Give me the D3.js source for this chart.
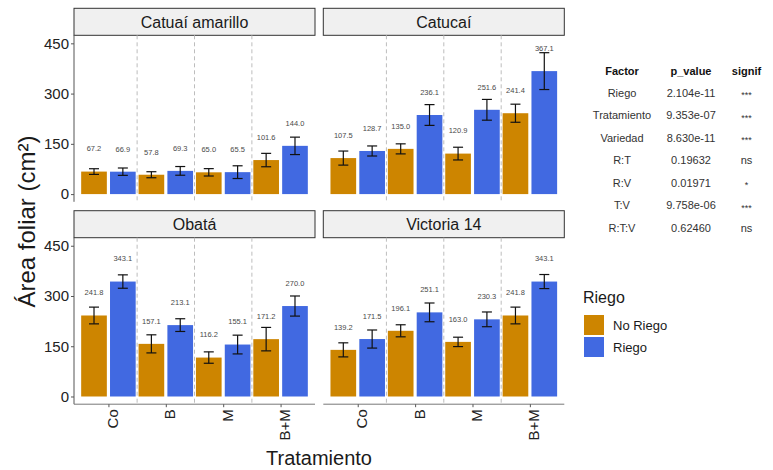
<!DOCTYPE html>
<html>
<head>
<meta charset="utf-8">
<script src="https://cdn.jsdelivr.net/npm/d3@7"></script>
<style>
  body { margin: 0; background: #fff; }
  text { font-family: "Liberation Sans", Arial, sans-serif; }
</style>
</head>
<body>
<div id="chart"></div>
<script>
const varieties = ["Catuaí amarillo", "Catucaí", "Obatá", "Victoria 14"];
const treatments = ["Co", "B", "M", "B+M"];
const riegoLevels = ["No Riego", "Riego"];

// medias por variedad (orden de treatments)
const noRiegoMeans = [
    [67.2, 57.8, 65.0, 101.6],
    [107.5, 135.0, 120.9, 241.4],
    [241.8, 157.1, 116.2, 171.2],
    [139.2, 196.1, 163.0, 241.8]
];
const riegoMeans = [
    [66.9, 69.3, 65.5, 144.0],
    [128.7, 236.1, 251.6, 367.1],
    [343.1, 213.1, 155.1, 270.0],
    [171.5, 251.1, 230.3, 343.1]
];
// error estandar
const noRiegoSE = [
    [8.5, 9, 11, 20],
    [21, 15, 19, 27],
    [25, 27, 17, 35],
    [21, 18, 14, 25]
];
const riegoSE = [
    [11, 13, 19, 26],
    [15, 31, 31, 55],
    [20, 19, 28, 30],
    [27, 28, 22, 21]
];

const yTicks = [0, 150, 300, 450];

const anova = [
    ["Riego", "2.104e-11", "***"],
    ["Tratamiento", "9.353e-07", "***"],
    ["Variedad", "8.630e-11", "***"],
    ["R:T", "0.19632", "ns"],
    ["R:V", "0.01971", "*"],
    ["T:V", "9.758e-06", "***"],
    ["R:T:V", "0.62460", "ns"]
];
const anovaHeader = ["Factor", "p_value", "signif"];

const colors = { "No Riego": "#CD8500", "Riego": "#4169E1" };

document.addEventListener("DOMContentLoaded", draw);

function draw() {
    const width = 773;
    const height = 470;

    const svg = d3.select("#chart")
        .append("svg")
        .attr("width", width)
        .attr("height", height);

    svg.append("rect").attr("width", width).attr("height", height).attr("fill", "#fff");

    const colX = [74, 323.3];
    const panelW = 241;
    const stripTop = [8.3, 210.7];
    const stripH = 27;
    const panelH = 166.5;

    varieties.forEach((v, i) => {
        const col = i % 2;
        const row = Math.floor(i / 2);
        const x0 = colX[col];
        const top = stripTop[row] + stripH;
        drawPanel(svg, i, x0, top, panelW, panelH, stripTop[row], stripH, col === 0, row === 1);
    });

    // titulos de ejes
    svg.append("text")
        .attr("transform", `translate(35,221.5) rotate(-90)`)
        .attr("text-anchor", "middle")
        .attr("font-size", 24)
        .attr("fill", "#1a1a1a")
        .text("Área foliar (cm²)");

    svg.append("text")
        .attr("x", 319)
        .attr("y", 465)
        .attr("text-anchor", "middle")
        .attr("font-size", 20)
        .attr("fill", "#1a1a1a")
        .text("Tratamiento");

    drawTable(svg);
    drawLegend(svg);
}

function drawPanel(svg, vi, x0, top, w, h, sTop, sH, showY, showX) {
    const g = svg.append("g");

    const x = d3.scalePoint()
        .domain(treatments)
        .range([x0, x0 + w])
        .padding(0.6);
    const step = x.step();

    const inner = d3.scaleBand()
        .domain(riegoLevels)
        .range([-0.475 * step, 0.475 * step])
        .paddingInner(0.11);

    const y = d3.scaleLinear()
        .domain([-23, 474])
        .range([top + h, top]);

    // strip
    g.append("rect")
        .attr("x", x0)
        .attr("y", sTop)
        .attr("width", w)
        .attr("height", sH)
        .attr("fill", "#F0F0F0")
        .attr("stroke", "#333")
        .attr("stroke-width", 1);
    g.append("text")
        .attr("x", x0 + w / 2)
        .attr("y", sTop + sH / 2)
        .attr("dy", "0.36em")
        .attr("text-anchor", "middle")
        .attr("font-size", 16)
        .attr("fill", "#1a1a1a")
        .text(varieties[vi]);

    // lineas divisorias punteadas
    const seps = treatments.slice(1).map(t => x(t) - step / 2);
    g.append("g")
        .selectAll("line")
        .data(seps)
        .enter()
        .append("line")
        .attr("x1", d => d)
        .attr("x2", d => d)
        .attr("y1", top)
        .attr("y2", top + h)
        .attr("stroke", "#bdbdbd")
        .attr("stroke-width", 1)
        .attr("stroke-dasharray", "4,3");

    const rows = [];
    treatments.forEach((t, ti) => {
        rows.push({ t, r: "No Riego", mean: noRiegoMeans[vi][ti], se: noRiegoSE[vi][ti] });
        rows.push({ t, r: "Riego", mean: riegoMeans[vi][ti], se: riegoSE[vi][ti] });
    });
    const cx = d => x(d.t) + inner(d.r) + inner.bandwidth() / 2;

    g.append("g")
        .selectAll("rect")
        .data(rows)
        .enter()
        .append("rect")
        .attr("x", d => x(d.t) + inner(d.r))
        .attr("width", inner.bandwidth())
        .attr("y", d => y(d.mean))
        .attr("height", d => y(0) - y(d.mean))
        .attr("fill", d => colors[d.r]);

    // barras de error
    const eb = g.append("g")
        .attr("stroke", "#111")
        .attr("stroke-width", 1.2);
    rows.forEach(d => {
        const c = cx(d);
        const y1 = y(d.mean + d.se);
        const y2 = y(d.mean - d.se);
        eb.append("line").attr("x1", c).attr("x2", c).attr("y1", y1).attr("y2", y2);
        eb.append("line").attr("x1", c - 5).attr("x2", c + 5).attr("y1", y1).attr("y2", y1);
        eb.append("line").attr("x1", c - 5).attr("x2", c + 5).attr("y1", y2).attr("y2", y2);
    });

    // etiquetas de valor
    g.append("g")
        .selectAll("text")
        .data(rows)
        .enter()
        .append("text")
        .attr("x", cx)
        .attr("y", d => y(d.mean + 68))
        .attr("dy", "0.35em")
        .attr("text-anchor", "middle")
        .attr("font-size", 7.5)
        .attr("fill", "#4a4a4a")
        .text(d => d.mean.toFixed(1));

    if (showY) {
        const ay = g.append("g")
            .attr("transform", `translate(${x0},0)`)
            .call(d3.axisLeft(y).tickValues(yTicks).tickSize(3).tickPadding(2));
        ay.select(".domain").attr("d", `M0,${top}V${top + h}`).attr("stroke", "#555");
        ay.selectAll(".tick line").attr("stroke", "#555");
        ay.selectAll(".tick text")
            .attr("font-size", 15)
            .attr("font-family", "Liberation Sans, Arial, sans-serif")
            .attr("fill", "#222");
    }

    if (showX) {
        const ax = g.append("g")
            .attr("transform", `translate(0,${top + h})`)
            .call(d3.axisBottom(x).tickSize(3).tickSizeOuter(0));
        ax.select(".domain").attr("d", `M${x0},0H${x0 + w}`).attr("stroke", "#777");
        ax.selectAll(".tick line").attr("stroke", "#555");
        ax.selectAll(".tick text")
            .attr("font-size", 15)
            .attr("font-family", "Liberation Sans, Arial, sans-serif")
            .attr("fill", "#222")
            .attr("text-anchor", "end")
            .attr("transform", "rotate(-90)")
            .attr("x", -5)
            .attr("y", 0)
            .attr("dy", "0.6em");
    }
}

function drawTable(svg) {
    const colCx = [622, 691, 746.5];
    const g = svg.append("g").attr("font-size", 11);

    g.selectAll("text.head")
        .data(anovaHeader)
        .enter()
        .append("text")
        .attr("class", "head")
        .attr("x", (d, i) => colCx[i])
        .attr("y", 70.7)
        .attr("dy", "0.35em")
        .attr("text-anchor", "middle")
        .attr("font-weight", "bold")
        .attr("fill", "#111")
        .text(d => d);

    anova.forEach((row, ri) => {
        row.forEach((cell, ci) => {
            g.append("text")
                .attr("x", colCx[ci])
                .attr("y", 92.7 + ri * 22.5)
                .attr("dy", ci === 2 && cell !== "ns" ? "0.6em" : "0.35em")
                .attr("text-anchor", "middle")
                .attr("fill", "#333")
                .attr("font-size", ci === 2 && cell !== "ns" ? 9 : 11)
                .text(cell);
        });
    });
}

function drawLegend(svg) {
    const g = svg.append("g").attr("transform", "translate(584,0)");
    g.append("text")
        .attr("x", -1)
        .attr("y", 303)
        .attr("font-size", 16)
        .attr("fill", "#1a1a1a")
        .text("Riego");

    const keys = g.selectAll("g.key")
        .data(riegoLevels)
        .enter()
        .append("g")
        .attr("transform", (d, i) => `translate(0,${315 + i * 22})`);
    keys.append("rect")
        .attr("width", 20)
        .attr("height", 20)
        .attr("fill", d => colors[d]);
    keys.append("text")
        .attr("x", 29)
        .attr("y", 10)
        .attr("dy", "0.35em")
        .attr("font-size", 13)
        .attr("fill", "#1a1a1a")
        .text(d => d);
}
</script>
</body>
</html>
